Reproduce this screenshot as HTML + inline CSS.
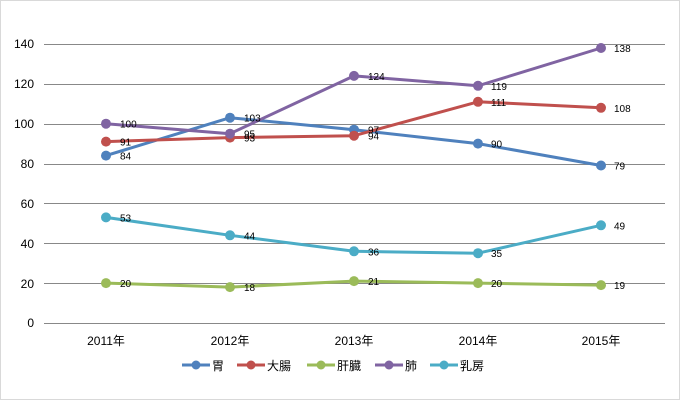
<!DOCTYPE html>
<html><head><meta charset="utf-8"><style>
html,body{margin:0;padding:0;background:#fff}
svg text{font-family:"Liberation Sans","Noto Sans CJK JP",sans-serif;fill:#000}
</style></head><body>
<svg width="680" height="400" xmlns="http://www.w3.org/2000/svg">
<rect x="0.5" y="0.5" width="679" height="399" fill="#fff" stroke="#d9d9d9"/>
<g stroke="#888" stroke-width="1">
<line x1="44" x2="665" y1="44.5" y2="44.5"/>
<line x1="44" x2="665" y1="84.5" y2="84.5"/>
<line x1="44" x2="665" y1="124.5" y2="124.5"/>
<line x1="44" x2="665" y1="164.5" y2="164.5"/>
<line x1="44" x2="665" y1="203.5" y2="203.5"/>
<line x1="44" x2="665" y1="243.5" y2="243.5"/>
<line x1="44" x2="665" y1="283.5" y2="283.5"/>
<line x1="44" x2="665" y1="323.5" y2="323.5"/>
</g>
<g font-size="12" text-anchor="end">
<text x="34" y="48">140</text><text x="34" y="88">120</text><text x="34" y="128">100</text>
<text x="34" y="168">80</text><text x="34" y="208">60</text><text x="34" y="248">40</text>
<text x="34" y="288">20</text><text x="34" y="327">0</text>
</g>
<g font-size="12" text-anchor="middle">
<text x="106" y="345">2011年</text><text x="230" y="345">2012年</text><text x="354" y="345">2013年</text>
<text x="478" y="345">2014年</text><text x="601" y="345">2015年</text>
</g>
<g fill="none" stroke-width="3" stroke-linejoin="round">
<polyline stroke="#4f81bd" points="106,155.6 230,117.7 354,129.7 478,143.6 601,165.5"/>
<polyline stroke="#c0504d" points="106,141.6 230,137.6 354,135.7 478,101.8 601,107.8"/>
<polyline stroke="#9bbb59" points="106,283.1 230,287.1 354,281.1 478,283.1 601,285.1"/>
<polyline stroke="#8064a2" points="106,123.7 230,133.7 354,75.9 478,85.8 601,48"/>
<polyline stroke="#4bacc6" points="106,217.4 230,235.3 354,251.3 478,253.2 601,225.3"/>
</g>
<g fill="#4f81bd"><circle cx="106" cy="155.6" r="5"/><circle cx="230" cy="117.7" r="5"/><circle cx="354" cy="129.7" r="5"/><circle cx="478" cy="143.6" r="5"/><circle cx="601" cy="165.5" r="5"/></g>
<g fill="#c0504d"><circle cx="106" cy="141.6" r="5"/><circle cx="230" cy="137.6" r="5"/><circle cx="354" cy="135.7" r="5"/><circle cx="478" cy="101.8" r="5"/><circle cx="601" cy="107.8" r="5"/></g>
<g fill="#9bbb59"><circle cx="106" cy="283.1" r="5"/><circle cx="230" cy="287.1" r="5"/><circle cx="354" cy="281.1" r="5"/><circle cx="478" cy="283.1" r="5"/><circle cx="601" cy="285.1" r="5"/></g>
<g fill="#8064a2"><circle cx="106" cy="123.7" r="5"/><circle cx="230" cy="133.7" r="5"/><circle cx="354" cy="75.9" r="5"/><circle cx="478" cy="85.8" r="5"/><circle cx="601" cy="48" r="5"/></g>
<g fill="#4bacc6"><circle cx="106" cy="217.4" r="5"/><circle cx="230" cy="235.3" r="5"/><circle cx="354" cy="251.3" r="5"/><circle cx="478" cy="253.2" r="5"/><circle cx="601" cy="225.3" r="5"/></g>
<g font-size="10">
<text x="120" y="159.6">84</text><text x="244" y="121.7">103</text><text x="368" y="133.7">97</text><text x="491" y="147.6">90</text><text x="614" y="169.5">79</text>
<text x="120" y="145.6">91</text><text x="244" y="141.6">93</text><text x="368" y="139.7">94</text><text x="491" y="105.8">111</text><text x="614" y="111.8">108</text>
<text x="120" y="287.1">20</text><text x="244" y="291.1">18</text><text x="368" y="285.1">21</text><text x="491" y="287.1">20</text><text x="614" y="289.1">19</text>
<text x="120" y="127.7">100</text><text x="244" y="137.7">95</text><text x="368" y="79.9">124</text><text x="491" y="89.8">119</text><text x="614" y="52">138</text>
<text x="120" y="221.4">53</text><text x="244" y="239.3">44</text><text x="368" y="255.3">36</text><text x="491" y="257.2">35</text><text x="614" y="229.3">49</text>
</g>
<g stroke-width="3">
<line x1="182" x2="210" y1="365" y2="365" stroke="#4f81bd"/><circle cx="196" cy="365" r="4.5" fill="#4f81bd"/>
<line x1="237" x2="265" y1="365" y2="365" stroke="#c0504d"/><circle cx="251" cy="365" r="4.5" fill="#c0504d"/>
<line x1="307" x2="335" y1="365" y2="365" stroke="#9bbb59"/><circle cx="321" cy="365" r="4.5" fill="#9bbb59"/>
<line x1="375" x2="403" y1="365" y2="365" stroke="#8064a2"/><circle cx="389" cy="365" r="4.5" fill="#8064a2"/>
<line x1="430" x2="458" y1="365" y2="365" stroke="#4bacc6"/><circle cx="444" cy="365" r="4.5" fill="#4bacc6"/>
</g>
<g font-size="12">
<text x="212" y="370">胃</text><text x="267" y="370">大腸</text><text x="337" y="370">肝臓</text><text x="405" y="370">肺</text><text x="460" y="370">乳房</text>
</g>
</svg>
</body></html>
